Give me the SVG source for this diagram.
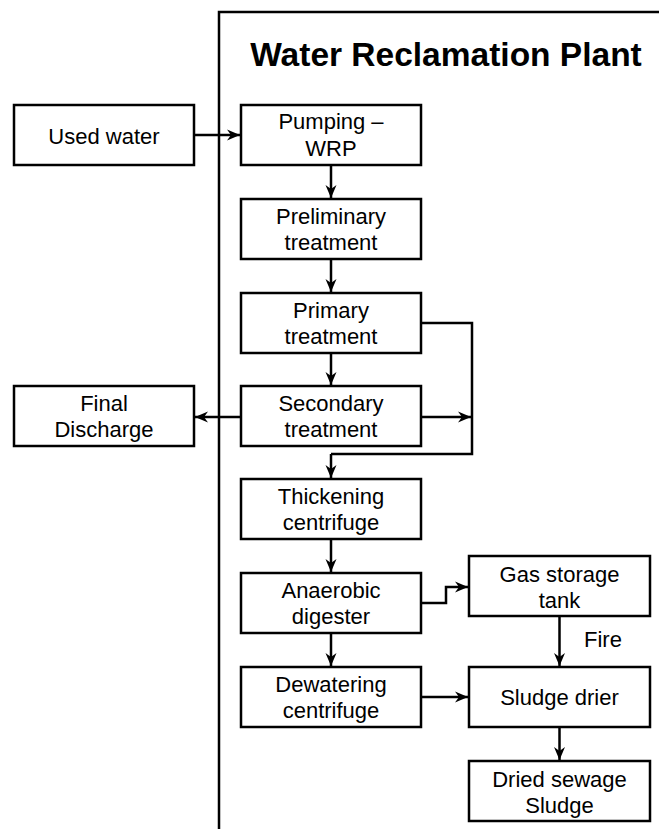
<svg xmlns="http://www.w3.org/2000/svg" width="659" height="829" viewBox="0 0 659 829">
<defs>
<style>
.box{fill:#fff;stroke:#000;stroke-width:2.5}
.t{font-family:"Liberation Sans",Arial,sans-serif;font-size:22px;text-anchor:middle;fill:#000}
.title{font-family:"Liberation Sans",Arial,sans-serif;font-size:33.5px;font-weight:bold;text-anchor:middle;fill:#000}
.c{fill:none;stroke:#000;stroke-width:2.5}
.frame{fill:none;stroke:#000;stroke-width:2.5}
</style>
<marker id="ah" markerUnits="userSpaceOnUse" markerWidth="14" markerHeight="12" refX="13" refY="6" orient="auto">
<path d="M0,0.5 L13,6 L0,11.5 L4,6 z" fill="#000"/>
</marker>
</defs>
<g id="frame">
<path class="frame" d="M219,829 V12 H659"/>
<text class="title" x="446" y="66">Water Reclamation Plant</text>
</g>
<g id="used-water"><rect class="box" x="14" y="105" width="180" height="60"/><text class="t" x="104" y="143.5">Used water</text></g>
<g id="pumping"><rect class="box" x="241" y="105" width="180" height="60"/><text class="t" x="331" y="129">Pumping –</text><text class="t" x="331" y="156">WRP</text></g>
<g id="preliminary"><rect class="box" x="241" y="199" width="180" height="60"/><text class="t" x="331" y="224">Preliminary</text><text class="t" x="331" y="250">treatment</text></g>
<g id="primary"><rect class="box" x="241" y="293" width="180" height="60"/><text class="t" x="331" y="318">Primary</text><text class="t" x="331" y="344">treatment</text></g>
<g id="secondary"><rect class="box" x="241" y="386" width="180" height="60"/><text class="t" x="331" y="411">Secondary</text><text class="t" x="331" y="437">treatment</text></g>
<g id="final-discharge"><rect class="box" x="14" y="386" width="180" height="60"/><text class="t" x="104" y="411">Final</text><text class="t" x="104" y="437">Discharge</text></g>
<g id="thickening"><rect class="box" x="241" y="479" width="180" height="60"/><text class="t" x="331" y="504">Thickening</text><text class="t" x="331" y="530">centrifuge</text></g>
<g id="anaerobic"><rect class="box" x="241" y="573" width="180" height="60"/><text class="t" x="331" y="598">Anaerobic</text><text class="t" x="331" y="624">digester</text></g>
<g id="dewatering"><rect class="box" x="241" y="667" width="180" height="60"/><text class="t" x="331" y="692">Dewatering</text><text class="t" x="331" y="718">centrifuge</text></g>
<g id="gas-storage"><rect class="box" x="469" y="556" width="181" height="60"/><text class="t" x="559.5" y="581.5">Gas storage</text><text class="t" x="559.5" y="607.5">tank</text></g>
<g id="sludge-drier"><rect class="box" x="469" y="667" width="181" height="60"/><text class="t" x="559.5" y="705">Sludge drier</text></g>
<g id="dried-sludge"><rect class="box" x="469" y="761" width="181" height="60"/><text class="t" x="559.5" y="787">Dried sewage</text><text class="t" x="559.5" y="813">Sludge</text></g>
<g id="connectors">
<path class="c" marker-end="url(#ah)" d="M194,135 H240"/>
<path class="c" marker-end="url(#ah)" d="M331,165 V198"/>
<path class="c" marker-end="url(#ah)" d="M331,259 V292"/>
<path class="c" marker-end="url(#ah)" d="M331,353 V385"/>
<path class="c" d="M421,323 H472 V454 H331"/>
<path class="c" marker-end="url(#ah)" d="M331,454 V478"/>
<path class="c" marker-end="url(#ah)" d="M421,417 H471"/>
<path class="c" marker-end="url(#ah)" d="M241,417 H195"/>
<path class="c" marker-end="url(#ah)" d="M331,539 V572"/>
<path class="c" marker-end="url(#ah)" d="M331,633 V666"/>
<path class="c" marker-end="url(#ah)" d="M421,603 H446 V587 H468"/>
<path class="c" marker-end="url(#ah)" d="M559.5,616 V666"/>
<path class="c" marker-end="url(#ah)" d="M421,697 H468"/>
<path class="c" marker-end="url(#ah)" d="M559.5,727 V760"/>
<text class="t" x="603" y="647">Fire</text>
</g>
</svg>
